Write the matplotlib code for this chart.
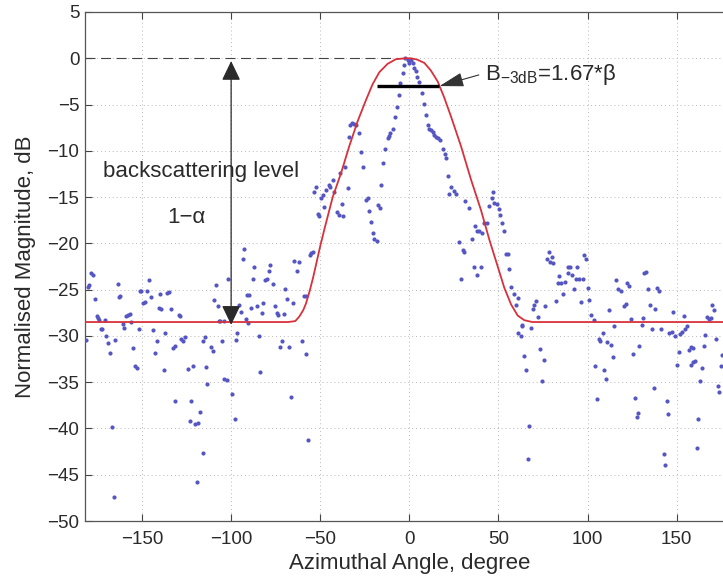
import matplotlib
matplotlib.use("Agg")
import matplotlib.pyplot as plt

# DATA

# measured backscatter samples: (azimuth deg, magnitude dB)
SAMPLES = [
    # far left side lobe region
    (-178.9, -23.2), (-177.6, -23.4), (-180.4, -24.7), (-179.6, -24.5), (-181.2, -30.4),
    (-176.3, -26.0), (-175.5, -27.8), (-174.8, -28.1), (-174.0, -28.3), (-173.3, -29.2),
    (-172.4, -29.3), (-170.9, -28.3), (-170.0, -30.0), (-169.2, -30.8), (-168.1, -31.8),
    (-164.9, -30.4), (-166.8, -39.8), (-165.5, -47.4), (-163.6, -24.4), (-163.1, -25.8),
    (-162.1, -25.7), (-160.6, -28.7), (-159.9, -29.1), (-159.0, -27.9), (-157.8, -27.7),
    (-156.9, -27.6), (-156.0, -28.5), (-155.0, -31.3), (-154.1, -33.3), (-152.8, -33.5),
    (-151.9, -29.3), (-151.3, -25.2), (-150.4, -25.1), (-149.3, -26.4), (-148.5, -26.3),
    (-147.2, -25.1), (-145.9, -24.0), (-145.0, -25.8), (-143.8, -29.4), (-142.7, -31.9),
    (-141.6, -30.6), (-140.7, -27.0), (-139.4, -27.1), (-139.7, -25.5), (-137.1, -29.7),
    (-137.9, -33.7), (-136.0, -25.4), (-134.7, -25.3), (-133.8, -27.1), (-132.6, -31.3),
    (-131.3, -31.1), (-131.3, -37.0), (-129.5, -27.7), (-128.5, -27.8), (-128.0, -30.3),
    (-127.0, -30.5), (-126.1, -30.1), (-124.4, -33.6), (-122.6, -37.0), (-122.9, -39.2),
    (-121.5, -33.3), (-120.1, -39.5), (-118.7, -39.4), (-117.4, -38.2), (-116.0, -30.6),
    (-114.9, -30.1), (-116.0, -42.6), (-119.2, -45.8), (-114.2, -33.4), (-113.4, -35.2),
    (-111.4, -31.2), (-110.3, -31.6), (-109.5, -26.1), (-108.4, -24.5), (-107.6, -26.8),
    (-106.2, -28.4), (-105.2, -30.6), (-103.9, -34.7), (-102.4, -34.8), (-101.5, -23.8),
    (-99.3, -36.3), (-98.1, -39.0), (-97.2, -30.4), (-96.5, -29.7), (-95.3, -26.7),
    (-94.6, -27.4), (-93.5, -21.7), (-92.5, -20.6), (-91.4, -28.2), (-91.2, -25.6),
    (-107.0, -28.4), (-103.8, -28.4), (-90.7, -28.6),
    # left, near the main lobe
    (-87.0, -22.6), (-78.0, -22.3), (-78.6, -23.0), (-80.0, -23.8), (-80.8, -24.0),
    (-87.9, -23.8), (-76.7, -24.4), (-69.6, -24.9), (-89.8, -25.6), (-88.7, -27.0),
    (-85.7, -26.8), (-81.9, -26.4), (-82.7, -27.5), (-75.6, -26.8), (-74.5, -27.5),
    (-73.5, -27.7), (-70.5, -27.6), (-68.5, -26.0), (-65.5, -26.4), (-64.5, -21.9),
    (-63.2, -23.0), (-61.7, -22.0), (-58.9, -25.7), (-58.0, -25.7), (-84.6, -30.0),
    (-71.4, -30.6), (-72.6, -31.2), (-67.3, -31.2), (-60.2, -30.5), (-58.0, -32.0),
    (-83.6, -33.9), (-66.4, -36.6), (-56.7, -41.3), (-55.2, -21.0), (-55.7, -21.3),
    # main lobe, left half
    (-20.6, -18.9), (-19.6, -19.5), (-18.3, -19.7), (-2.2, 0.0), (-1.0, -0.2),
    (0.0, -0.5), (-2.8, -0.7), (-3.8, -1.6), (-5.0, -2.7), (-6.0, -4.0),
    (-7.1, -5.3), (-8.0, -6.3), (-9.3, -7.6), (-10.8, -8.1), (-11.6, -8.4),
    (-12.2, -8.6), (-13.5, -9.8), (-15.0, -11.3), (-15.9, -13.7), (-17.4, -15.9),
    (-16.4, -16.2), (-21.5, -17.7), (-22.4, -16.5), (-23.4, -15.1), (-24.3, -15.3),
    (-25.8, -11.8), (-27.1, -10.1), (-28.5, -8.1), (-29.9, -7.2), (-30.9, -7.1),
    (-32.2, -7.0), (-33.1, -7.2), (-34.1, -8.5), (-36.1, -11.8), (-34.6, -14.0),
    (-38.9, -12.4), (-37.8, -15.7), (-37.0, -17.0), (-39.3, -16.9), (-40.6, -16.6),
    (-42.1, -14.4), (-43.0, -13.1), (-44.5, -13.9), (-45.3, -13.7), (-46.7, -14.2),
    (-48.3, -14.8), (-49.6, -15.1), (-47.7, -16.1), (-52.4, -13.9), (-53.3, -14.4),
    (-51.5, -16.8), (-50.5, -17.0), (-54.3, -20.9),
    # main lobe, right half
    (1.0, -0.2), (1.9, -0.5), (2.8, -1.1), (3.8, -1.4), (4.3, -2.0),
    (5.6, -2.6), (6.9, -3.8), (8.0, -4.9), (9.4, -6.1), (10.3, -7.2),
    (11.2, -7.6), (12.2, -7.8), (13.1, -8.0), (14.0, -8.3), (15.0, -8.5),
    (15.9, -8.6), (17.0, -8.8), (18.7, -9.8), (20.0, -10.3), (20.6, -10.8),
    (21.5, -12.7), (23.4, -13.9), (24.9, -14.3), (26.2, -14.7), (22.4, -14.7),
    (31.4, -15.4), (33.3, -16.2), (36.9, -18.1), (38.0, -18.7), (39.3, -18.7),
    (40.6, -18.9), (42.1, -17.8), (43.4, -17.8), (35.2, -19.5), (28.1, -19.8),
    (29.9, -20.7), (30.9, -20.9), (29.0, -23.8), (36.1, -22.5), (38.0, -23.4),
    (40.2, -22.6), (44.9, -16.0), (46.2, -15.1), (46.8, -14.5), (47.7, -15.6),
    (49.2, -15.7), (50.5, -16.3), (51.1, -16.9), (51.8, -17.8), (52.9, -18.7),
    (54.3, -21.1), (55.2, -21.2), (56.1, -22.8), (57.1, -24.7), (58.5, -25.5),
    (60.8, -25.9), (59.9, -26.7), (63.0, -28.8), (60.8, -29.7), (62.7, -30.0),
    # right side lobe region
    (78.2, -20.9), (79.9, -21.5), (77.1, -21.7), (79.1, -22.0), (80.8, -22.1),
    (97.8, -21.3), (99.0, -21.7), (88.8, -22.6), (90.2, -22.6), (94.1, -22.6),
    (88.8, -23.2), (91.1, -23.4), (84.2, -23.5), (87.4, -24.2), (85.1, -24.3),
    (83.2, -24.3), (93.5, -23.9), (95.4, -23.9), (97.3, -23.9), (92.2, -24.9),
    (100.1, -24.8), (86.0, -25.5), (82.3, -26.2), (96.3, -26.3), (101.0, -26.1),
    (71.1, -26.2), (70.1, -26.7), (69.2, -27.1), (76.3, -26.8), (72.4, -28.0),
    (102.0, -27.7), (103.4, -28.3), (63.2, -28.9), (68.3, -29.1), (112.2, -27.2),
    (115.0, -28.9), (116.0, -24.0), (117.3, -24.9), (118.8, -25.2), (120.3, -26.8),
    (106.2, -30.3), (107.2, -30.6), (108.5, -29.7), (111.2, -30.7), (113.1, -31.0),
    (114.5, -32.3), (64.5, -32.2), (73.5, -31.4), (75.4, -32.6), (65.5, -33.7),
    (74.5, -34.9), (104.4, -33.2), (109.4, -33.7), (110.4, -34.7), (105.3, -36.8),
    (67.3, -39.7), (66.4, -43.3),
    # far right
    (132.8, -23.1), (131.9, -23.2), (122.2, -24.3), (123.1, -24.6), (134.1, -24.9),
    (139.0, -24.8), (139.9, -25.2), (121.6, -26.5), (135.2, -26.7), (138.0, -27.1),
    (148.1, -27.4), (153.9, -27.9), (124.4, -28.2), (131.3, -28.1), (130.4, -28.8),
    (136.2, -29.3), (141.2, -29.2), (145.9, -29.7), (147.2, -29.6), (149.3, -30.0),
    (151.9, -29.8), (153.0, -29.6), (154.9, -29.2), (155.8, -28.9), (169.6, -26.7),
    (170.8, -27.2), (167.0, -28.0), (167.9, -28.2), (169.3, -28.1), (165.9, -29.9),
    (172.1, -30.3), (129.1, -31.1), (125.3, -32.0), (158.0, -31.2), (157.1, -31.5),
    (159.4, -31.3), (151.5, -31.7), (165.1, -31.1), (159.0, -32.8), (160.3, -32.7),
    (158.0, -33.1), (150.2, -33.1), (164.3, -33.5), (174.9, -33.2), (175.3, -32.1),
    (163.3, -34.9), (137.1, -35.6), (173.0, -35.4), (174.0, -36.1), (126.7, -36.7),
    (144.4, -37.0), (128.5, -38.3), (127.6, -38.8), (145.3, -38.4), (162.2, -39.0),
    (161.4, -42.1), (142.7, -42.8), (143.7, -43.9),
]
SAMPLE_X = [p[0] for p in SAMPLES]
SAMPLE_Y = [p[1] for p in SAMPLES]

# fitted model curve (red), read point by point
MODEL_X = [-182, -68, -64, -61.7, -59.5, -58, -56, -54, -52, -50, -47.7, -43, -38.3,
           -33.7, -29, -24.3, -20.6, -16.8, -12.2, -7.5, -2, 1, 4.5, 8.4, 12, 15.9,
           19.5, 23.4, 29, 34.6, 40.2, 44.9, 49.6, 53.3, 57.1, 60.8, 64.5, 69, 182]
MODEL_Y = [-28.5, -28.5, -28.4, -27.9, -27.2, -26.5, -25.2, -23.7, -22.0, -20.3, -18.5,
           -15.0, -12.4, -9.5, -6.8, -4.5, -2.8, -1.5, -0.6, -0.1, 0.0, 0.0, -0.15, -0.5,
           -1.3, -2.5, -4.2, -6.3, -9.5, -13.1, -16.4, -19.6, -22.5, -24.8, -26.6, -27.8,
           -28.3, -28.5, -28.5]

BACKSCATTER_LEVEL = -28.5
ARROW_X = -100
BW_LEFT, BW_RIGHT, BW_LEVEL = -18.0, 16.5, -3.0

X_TICKS = [-150, -100, -50, 0, 50, 100, 150]
Y_TICKS = list(range(-50, 6, 5))

# STYLE
plt.rcParams["font.family"] = ["Liberation Sans", "DejaVu Sans"]
plt.rcParams["mathtext.default"] = "regular"
plt.rcParams["axes.unicode_minus"] = True

DOT_COLOR = "#5656c2"
CURVE_COLOR = "#d8313b"
INK = "#2a2a2a"

fig = plt.figure(figsize=(7.23, 5.81), dpi=100)
# axes run a bit past the right edge of the picture, as in the scanned figure
ax = fig.add_axes([85 / 723, 60 / 581, 364 * 1.782 / 723, 509 / 581])

ax.plot(SAMPLE_X, SAMPLE_Y, "o", ms=3.0, mew=0, color=DOT_COLOR, zorder=3)
ax.plot(MODEL_X, MODEL_Y, "-", lw=1.3, color=CURVE_COLOR, zorder=4)

# 0 dB reference line
ax.plot([-182, -3], [0, 0], color="#444444", lw=0.8, dashes=(9, 5), zorder=2)

# backscattering level arrow
ax.annotate("", xy=(ARROW_X, -0.3), xytext=(ARROW_X, BACKSCATTER_LEVEL - 0.3),
            arrowprops=dict(arrowstyle="<|-|>,head_length=0.75,head_width=0.36",
                            mutation_scale=16, lw=0.9, color=INK,
                            shrinkA=0, shrinkB=0), zorder=5)

# -3 dB beamwidth bar
ax.plot([BW_LEFT, BW_RIGHT], [BW_LEVEL, BW_LEVEL], color="black", lw=2.4,
        solid_capstyle="butt", zorder=5)
ax.annotate("", xy=(BW_RIGHT + 0.5, BW_LEVEL), xytext=(39.0, -1.8),
            arrowprops=dict(arrowstyle="-|>,head_length=0.75,head_width=0.22",
                            mutation_scale=20, lw=0.8, color="#333333",
                            shrinkA=0, shrinkB=0), zorder=5)

ax.text(-172, -12.8, "backscattering level", fontsize=16, color=INK, va="baseline")
ax.text(-136, -17.8, "1\u2212\u03b1", fontsize=16, color=INK, va="baseline")
ax.text(42.5, -2.3, "B$_{\\mathregular{-3dB}}$=1.67*\u03b2",
        fontsize=16, color=INK, va="baseline")

ax.set_xlim(-182, 182)
ax.set_ylim(-50, 5)
ax.set_xticks(X_TICKS)
ax.set_yticks(Y_TICKS)
ax.grid(True, color="#b8b8b8", lw=0.7, linestyle=(0, (1, 3)))
ax.set_axisbelow(True)

ax.tick_params(direction="in", top=True, right=True, length=5, width=0.8,
               labelsize=13.5, colors="#444444", labelcolor=INK)
ax.tick_params(axis="x", pad=7)
ax.tick_params(axis="y", pad=4)
for sp in ax.spines.values():
    sp.set_color("#555555")
    sp.set_linewidth(0.9)

ax.set_xlabel("Azimuthal Angle, degree", fontsize=16, color=INK, labelpad=4)
ax.set_ylabel("Normalised Magnitude, dB", fontsize=16, color=INK, labelpad=8)

fig.savefig("out.png", dpi=100)
